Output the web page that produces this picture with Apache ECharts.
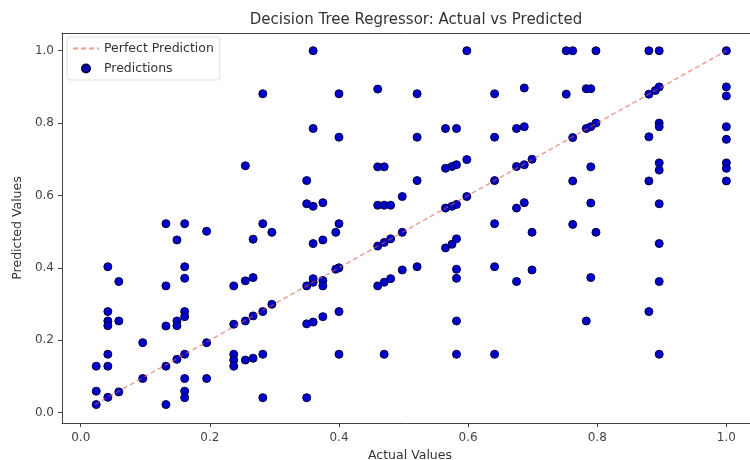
<!DOCTYPE html>
<html>
<head>
<meta charset="utf-8">
<script src="https://cdn.jsdelivr.net/npm/echarts@6/dist/echarts.min.js"></script>
<style>html,body{margin:0;padding:0;background:#fff;}#c{width:750px;height:460px;}</style>
</head>
<body>
<div id="c"></div>
<script>
const titleText = 'Decision Tree Regressor: Actual vs Predicted';
const xLabel = 'Actual Values';
const yLabel = 'Predicted Values';
const tickValues = [0, 0.2, 0.4, 0.6, 0.8, 1.0];
const perfectLine = [[0.022, 0.022], [1.0, 1.0]];

const actual = [
  0.024,0.024,0.024,
  0.042,0.042,0.042,0.042,0.042,0.042,0.042,
  0.059,0.059,0.059,
  0.096,0.096,
  0.132,0.132,0.132,0.132,0.132,
  0.149,0.149,0.149,0.149,
  0.161,0.161,0.161,0.161,0.161,0.161,0.161,0.161,0.161,
  0.195,0.195,0.195,
  0.237,0.237,0.237,0.237,0.237,
  0.255,0.255,0.255,0.255,
  0.267,0.267,0.267,0.267,
  0.282,0.282,0.282,0.282,0.282,
  0.296,0.296,
  0.350,0.350,0.350,0.350,0.350,
  0.360,0.360,0.360,0.360,0.360,0.360,0.360,
  0.375,0.375,0.375,0.375,0.375,
  0.400,0.400,0.400,0.400,0.400,0.400,
  0.395,0.395,
  0.460,0.460,0.460,0.460,0.460,
  0.470,0.470,0.470,0.470,0.470,
  0.480,0.480,0.480,
  0.498,0.498,0.498,
  0.521,0.521,0.521,0.521,
  0.565,0.565,0.565,0.565,
  0.575,0.575,0.575,
  0.582,0.582,0.582,0.582,0.582,0.582,0.582,0.582,
  0.598,0.598,0.598,
  0.641,0.641,0.641,0.641,0.641,0.641,
  0.675,0.675,0.675,0.675,
  0.687,0.687,0.687,0.687,
  0.699,0.699,0.699,
  0.752,0.752,
  0.762,0.762,0.762,0.762,
  0.783,0.783,0.783,
  0.790,0.790,0.790,0.790,0.790,
  0.798,0.798,0.798,
  0.880,0.880,0.880,0.880,0.880,
  0.890,
  0.896,0.896,0.896,0.896,0.896,0.896,0.896,0.896,0.896,0.896,
  1.000,1.000,1.000,1.000,1.000,1.000,1.000,1.000
];
const predicted = [
  0.128,0.059,0.022,
  0.403,0.279,0.253,0.240,0.161,0.128,0.042,
  0.362,0.253,0.057,
  0.193,0.094,
  0.522,0.350,0.239,0.128,0.022,
  0.477,0.253,0.240,0.147,
  0.522,0.403,0.371,0.279,0.265,0.161,0.094,0.059,0.041,
  0.501,0.193,0.094,
  0.350,0.244,0.161,0.145,0.128,
  0.682,0.364,0.253,0.145,
  0.479,0.373,0.267,0.150,
  0.881,0.522,0.279,0.161,0.041,
  0.498,0.299,
  0.641,0.577,0.350,0.245,0.041,
  1.000,0.785,0.570,0.467,0.360,0.370,0.250,
  0.580,0.477,0.365,0.350,0.265,
  0.881,0.761,0.522,0.400,0.279,0.161,
  0.396,0.498,
  0.894,0.679,0.573,0.460,0.350,
  0.679,0.573,0.470,0.360,0.161,
  0.573,0.480,0.370,
  0.597,0.498,0.394,
  0.881,0.761,0.641,0.403,
  0.785,0.675,0.565,0.455,
  0.680,0.570,0.465,
  0.785,0.685,0.575,0.480,0.396,0.371,0.253,0.161,
  1.000,0.699,0.597,
  0.881,0.761,0.641,0.522,0.403,0.161,
  0.785,0.680,0.565,0.362,
  0.897,0.790,0.685,0.580,
  0.700,0.498,0.394,
  1.000,0.880,
  1.000,0.760,0.640,0.520,
  0.785,0.253,0.895,
  0.895,0.790,0.679,0.579,0.373,
  1.000,0.800,0.498,
  1.000,0.880,0.762,0.640,0.279,
  0.890,
  1.000,0.900,0.800,0.790,0.690,0.670,0.577,0.467,0.362,0.161,
  1.000,0.900,0.875,0.790,0.755,0.690,0.675,0.640
];

const points = actual.map((a, i) => [a, predicted[i]]);
const font = 'DejaVu Sans';
const chart = echarts.init(document.getElementById('c'), null, {renderer: 'canvas'});
const lineCol = '#444';
const labelStyle = {formatter: v => v.toFixed(1), color: '#444', fontFamily: font, fontSize: 12, customValues: tickValues};
chart.setOption({
  animation: false,
  backgroundColor: '#fff',
  title: {text: titleText, left: 411, textAlign: 'center', top: 8,
    textStyle: {fontFamily: font, fontSize: 15, fontWeight: 'normal', color: '#333'}},
  grid: {left: 62, top: 33, right: -8, bottom: 37, show: false, outerBoundsMode: 'none', containLabel: false},
  xAxis: [
    {
      type: 'value', min: -0.029, max: 1.049, position: 'bottom',
      splitLine: {show: false},
      axisLine: {show: true, onZero: false, lineStyle: {color: lineCol, width: 1}},
      axisTick: {show: true, length: 4, customValues: tickValues, lineStyle: {color: lineCol}},
      axisLabel: Object.assign({margin: 9}, labelStyle),
      name: xLabel, nameLocation: 'middle', nameGap: 24,
      nameTextStyle: {color: '#333', fontFamily: font, fontSize: 12.5}
    },
    {
      type: 'value', min: -0.029, max: 1.049, position: 'top',
      splitLine: {show: false},
      axisLine: {show: true, onZero: false, lineStyle: {color: lineCol, width: 1}},
      axisTick: {show: false}, axisLabel: {show: false}
    }
  ],
  yAxis: {
    type: 'value', min: -0.029, max: 1.049,
    splitLine: {show: false},
    axisLine: {show: true, onZero: false, lineStyle: {color: lineCol, width: 1}},
    axisTick: {show: true, length: 4, customValues: tickValues, lineStyle: {color: lineCol}},
    axisLabel: Object.assign({margin: 8}, labelStyle),
    name: yLabel, nameLocation: 'middle', nameGap: 38,
    nameTextStyle: {color: '#333', fontFamily: font, fontSize: 12.5}
  },
  legend: {
    orient: 'vertical', left: 67, top: 37,
    data: [{name: 'Perfect Prediction', itemStyle: {opacity: 0}}, {name: 'Predictions', icon: 'circle'}],
    itemWidth: 26, itemHeight: 8, itemGap: 7,
    padding: [5, 6, 5, 5],
    borderColor: '#ddd', borderWidth: 1, borderRadius: 3, backgroundColor: 'rgba(255,255,255,0.85)',
    textStyle: {fontFamily: font, fontSize: 12.5, color: '#333'}
  },
  series: [
    {
      name: 'Predictions', type: 'scatter', data: points, symbolSize: 8, z: 2, xAxisIndex: 0,
      itemStyle: {color: '#0000cc', borderColor: '#000040', borderWidth: 1, opacity: 1}
    },
    {
      name: 'Perfect Prediction', type: 'line', data: perfectLine, showSymbol: false, symbol: 'none', z: 3, xAxisIndex: 0,
      lineStyle: {color: 'rgba(220,90,70,0.6)', width: 1.4, type: [5, 3]},
      itemStyle: {color: 'rgba(220,90,70,0.6)'}
    }
  ]
});
</script>
</body>
</html>
